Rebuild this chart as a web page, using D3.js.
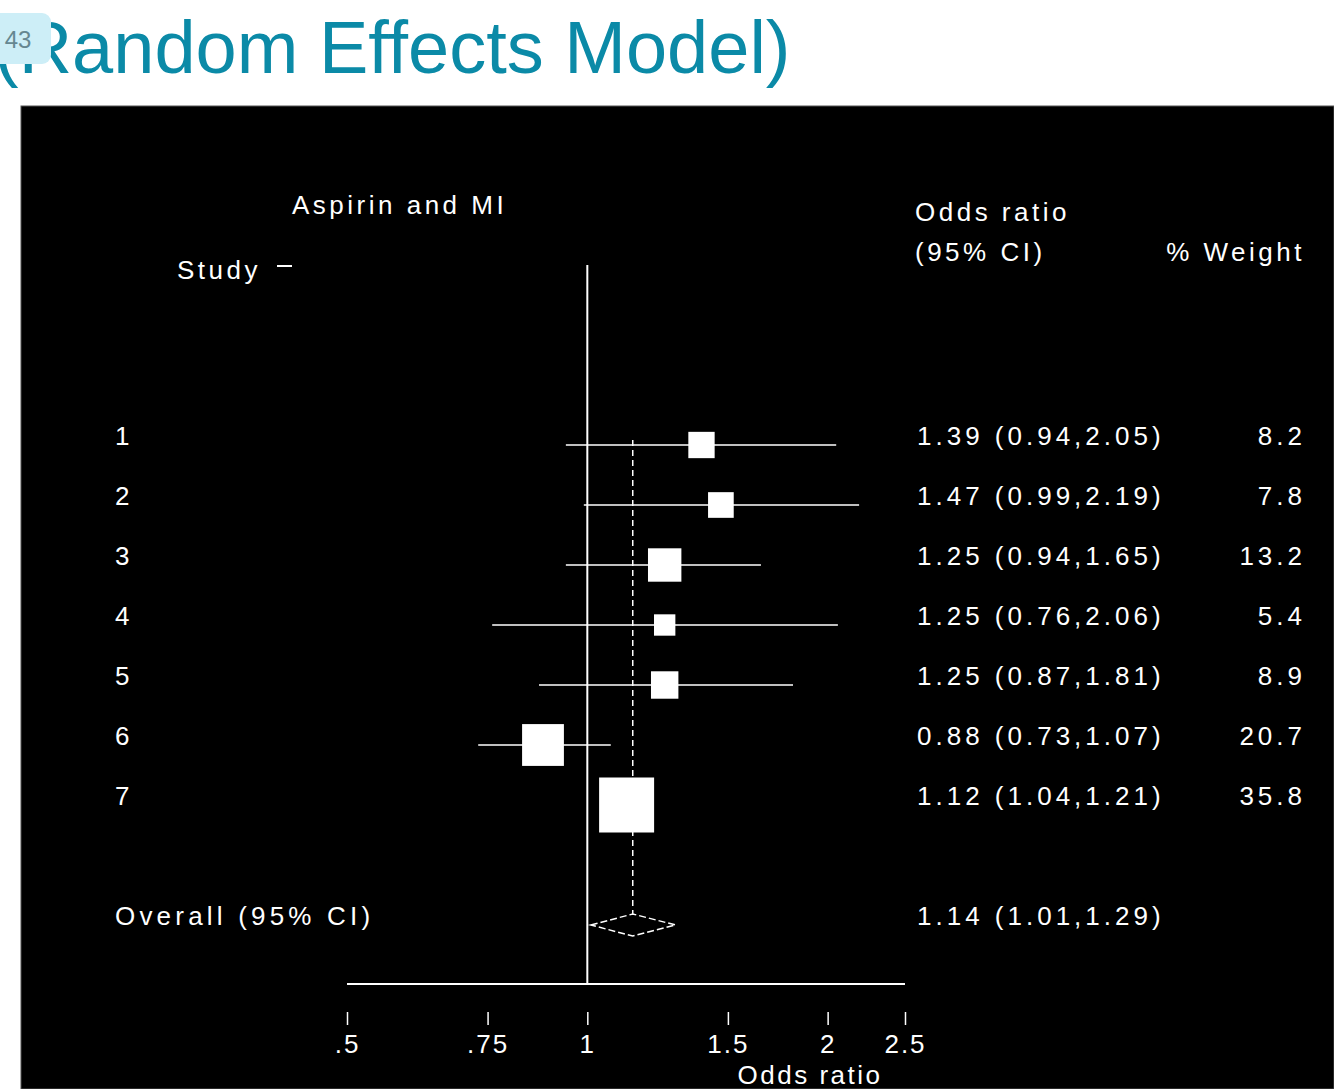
<!DOCTYPE html>
<html>
<head>
<meta charset="utf-8">
<script src="https://cdn.jsdelivr.net/npm/d3@7"></script>
<style>
  body { margin: 0; background: #fff; overflow: hidden; }
  svg { display: block; }
  .lbl { font-family: "Liberation Sans", Arial, sans-serif; font-size: 26px; fill: #fff; letter-spacing: 3.5px; }
  .num { letter-spacing: 4px; }
</style>
</head>
<body>
<div id="chart"></div>
<script>
// study data (Aspirin and MI, random effects)
var studies = ["1", "2", "3", "4", "5", "6", "7"];
var oddsRatio = [1.39, 1.47, 1.25, 1.25, 1.25, 0.88, 1.12];
var ciLow = [0.94, 0.99, 0.94, 0.76, 0.87, 0.73, 1.04];
var ciHigh = [2.05, 2.19, 1.65, 2.06, 1.81, 1.07, 1.21];
var weights = [8.2, 7.8, 13.2, 5.4, 8.9, 20.7, 35.8];
var overall = [1.14, 1.01, 1.29];   // estimate, low, high
var tickValues = [0.5, 0.75, 1, 1.5, 2, 2.5];
var tickLabels = [".5", ".75", "1", "1.5", "2", "2.5"];

var W = 1334, H = 1089;

var svg = d3.select("#chart").append("svg")
  .attr("width", W)
  .attr("height", H);

// black panel
svg.append("rect")
  .attr("x", 21).attr("y", 106)
  .attr("width", W - 21).attr("height", H - 106)
  .attr("fill", "#000")
  .attr("stroke", "#555")
  .attr("stroke-width", 1);

// slide title + page badge
svg.append("text")
  .attr("x", -6).attr("y", 73)
  .attr("font-family", "Liberation Sans, Arial, sans-serif")
  .attr("font-size", 74)
  .attr("fill", "#0b8aa7")
  .text("(Random Effects Model)");

var badge = svg.append("g");
badge.append("rect")
  .attr("x", -10).attr("y", 13)
  .attr("width", 61).attr("height", 51)
  .attr("rx", 9)
  .attr("fill", "#cdeef7");
badge.append("text")
  .attr("x", 18).attr("y", 48)
  .attr("text-anchor", "middle")
  .attr("font-family", "Liberation Sans, Arial, sans-serif")
  .attr("font-size", 24)
  .attr("fill", "#668791")
  .text("43");

// scales
var x = d3.scaleLog().domain([0.5, 2.5]).range([347, 905]);
var y = d3.scaleLinear().domain([1, 9]).range([445, 925]);
var side = d3.scaleSqrt().domain([0, d3.max(weights)]).range([0, 55]);
var f2 = d3.format(".2f");

var rows = studies.map(function(s, i) {
  return { study: s, or: oddsRatio[i], lo: ciLow[i], hi: ciHigh[i], w: weights[i], row: i + 1 };
});

var axisY = 984;

// header texts
svg.append("text").attr("class", "lbl").attr("x", 292).attr("y", 214).text("Aspirin and MI");
svg.append("text").attr("class", "lbl").attr("x", 177).attr("y", 279).text("Study");
svg.append("line")
  .attr("x1", 277).attr("x2", 292)
  .attr("y1", 266).attr("y2", 266)
  .attr("stroke", "#fff").attr("stroke-width", 2);
svg.append("text").attr("class", "lbl").attr("x", 915).attr("y", 221).text("Odds ratio");
svg.append("text").attr("class", "lbl").attr("x", 915).attr("y", 261).text("(95% CI)");
svg.append("text").attr("class", "lbl").attr("x", 1305).attr("y", 261)
  .attr("text-anchor", "end").text("% Weight");

// null line at OR = 1
svg.append("line")
  .attr("x1", x(1)).attr("x2", x(1))
  .attr("y1", 265).attr("y2", axisY)
  .attr("stroke", "#fff").attr("stroke-width", 2);

// dashed line at overall estimate
svg.append("line")
  .attr("x1", x(overall[0])).attr("x2", x(overall[0]))
  .attr("y1", y(1) - 5).attr("y2", y(9) - 11)
  .attr("stroke", "#fff").attr("stroke-width", 1.5)
  .attr("stroke-dasharray", "6,4");

var g = svg.append("g").attr("class", "studies");

g.selectAll("line.ci")
  .data(rows)
  .enter().append("line")
  .attr("class", "ci")
  .attr("x1", function(d) { return x(d.lo); })
  .attr("x2", function(d) { return x(d.hi); })
  .attr("y1", function(d) { return y(d.row); })
  .attr("y2", function(d) { return y(d.row); })
  .attr("stroke", "#fff")
  .attr("stroke-width", 1.5);

g.selectAll("rect.box")
  .data(rows)
  .enter().append("rect")
  .attr("class", "box")
  .attr("x", function(d) { return x(d.or) - side(d.w) / 2; })
  .attr("y", function(d) { return y(d.row) - side(d.w) / 2; })
  .attr("width", function(d) { return side(d.w); })
  .attr("height", function(d) { return side(d.w); })
  .attr("fill", "#fff");

g.selectAll("text.study")
  .data(rows)
  .enter().append("text")
  .attr("class", "lbl study")
  .attr("x", 115)
  .attr("y", function(d) { return y(d.row); })
  .text(function(d) { return d.study; });

g.selectAll("text.est")
  .data(rows)
  .enter().append("text")
  .attr("class", "lbl num est")
  .attr("x", 917)
  .attr("y", function(d) { return y(d.row); })
  .text(function(d) { return f2(d.or) + " (" + f2(d.lo) + "," + f2(d.hi) + ")"; });

g.selectAll("text.wt")
  .data(rows)
  .enter().append("text")
  .attr("class", "lbl num wt")
  .attr("x", 1306)
  .attr("y", function(d) { return y(d.row); })
  .attr("text-anchor", "end")
  .text(function(d) { return d3.format(".1f")(d.w); });

// overall diamond
var oy = y(9);
svg.append("polygon")
  .attr("points", [
    [x(overall[1]), oy].join(","),
    [x(overall[0]), oy - 11].join(","),
    [x(overall[2]), oy].join(","),
    [x(overall[0]), oy + 11].join(",")
  ].join(" "))
  .attr("fill", "none")
  .attr("stroke", "#fff")
  .attr("stroke-width", 1.5)
  .attr("stroke-dasharray", "7,3");

svg.append("text").attr("class", "lbl").attr("x", 115).attr("y", oy)
  .style("letter-spacing", "4.2px").text("Overall (95% CI)");
svg.append("text").attr("class", "lbl num").attr("x", 917).attr("y", oy)
  .text(f2(overall[0]) + " (" + f2(overall[1]) + "," + f2(overall[2]) + ")");

// x axis: baseline, then detached ticks below
svg.append("line")
  .attr("x1", x(0.5)).attr("x2", x(2.5))
  .attr("y1", axisY).attr("y2", axisY)
  .attr("stroke", "#fff").attr("stroke-width", 2);

var axis = d3.axisBottom(x)
  .tickValues(tickValues)
  .tickSize(13)
  .tickPadding(10)
  .tickFormat(function(d, i) { return tickLabels[i]; });

var ax = svg.append("g")
  .attr("transform", "translate(0,1012)")
  .call(axis);
ax.select(".domain").remove();
ax.selectAll(".tick line").attr("stroke", "#fff").attr("stroke-width", 1.5);
ax.selectAll(".tick text")
  .attr("class", "lbl")
  .attr("fill", "#fff")
  .style("font-size", "26px")
  .style("letter-spacing", "2px")
  .style("font-family", "Liberation Sans, Arial, sans-serif");

svg.append("text").attr("class", "lbl")
  .attr("x", 810).attr("y", 1084)
  .attr("text-anchor", "middle")
  .style("letter-spacing", "2.5px")
  .text("Odds ratio");
</script>
</body>
</html>
